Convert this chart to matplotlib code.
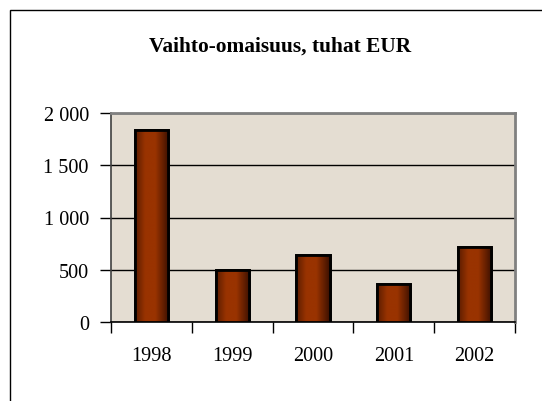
import numpy as np
import matplotlib
matplotlib.use("Agg")
import matplotlib.pyplot as plt
from matplotlib.colors import LinearSegmentedColormap
from matplotlib.patches import Rectangle
from matplotlib.ticker import FuncFormatter, MultipleLocator

years = ["1998", "1999", "2000", "2001", "2002"]
values = [1840, 500, 645, 362, 722]
title = "Vaihto-omaisuus, tuhat EUR"

plt.rcParams['font.family'] = ['Liberation Serif', 'DejaVu Serif']

fig = plt.figure(figsize=(5.42, 4.02), dpi=100)
fig.patch.set_facecolor("white")

# outer chart frame
frame = Rectangle((10 / 542, -0.05), 1.2, (402 - 10.5) / 402 + 0.05,
                  transform=fig.transFigure, fill=False, edgecolor="black",
                  linewidth=1.0)
fig.patches.append(frame)

ax = fig.add_axes([111 / 542, 79 / 402, 404 / 542, 209 / 402])
ax.set_facecolor("#E4DDD2")

x = np.arange(len(years))
width = 0.41
bars = ax.bar(x, values, width=width, color="#993300", edgecolor="black",
              linewidth=2.0, zorder=3)

cmap = LinearSegmentedColormap.from_list(
    "bar", [(0.0, "#5a1c00"), (0.3, "#993300"), (0.6, "#993300"), (1.0, "#3c1000")])
grad = np.linspace(0, 1, 256).reshape(1, -1)
for b in bars:
    bx, by = b.get_x(), b.get_y()
    bw, bh = b.get_width(), b.get_height()
    im = ax.imshow(grad, cmap=cmap, aspect="auto", extent=(bx, bx + bw, by, by + bh),
                   zorder=3.5, interpolation="bilinear")
    im.set_clip_path(b)
    ax.add_patch(Rectangle((bx, by), bw, bh, fill=False, edgecolor="black",
                           linewidth=2.0, zorder=4))

ax.set_xlim(-0.5, len(years) - 0.5)
ax.set_ylim(0, 2000)
ax.yaxis.set_major_locator(MultipleLocator(500))
ax.yaxis.set_major_formatter(FuncFormatter(lambda v, p: f"{int(v):,}".replace(",", " ")))
ax.grid(axis="y", color="black", linewidth=1.0, zorder=1)
ax.set_axisbelow(True)

ax.set_xticks(np.arange(len(years) + 1) - 0.5, minor=False)
ax.set_xticklabels([])
ax.set_xticks(x, minor=True)
ax.set_xticklabels(years, minor=True)
ax.tick_params(axis="x", which="major", direction="out", length=8, width=1, color="black")
ax.tick_params(axis="x", which="minor", length=0, pad=17, labelsize=14.6)
ax.tick_params(axis="y", direction="out", length=8, width=1, pad=8, labelsize=14.6)

for s in ["top", "right"]:
    ax.spines[s].set_color("#808080")
    ax.spines[s].set_linewidth(2.0)
ax.spines["left"].set_color("#404040")
ax.spines["left"].set_linewidth(1.2)
ax.spines["bottom"].set_color("black")
ax.spines["bottom"].set_linewidth(1.2)

fig.text(280 / 542, 1 - 47 / 402, title, ha="center", va="center",
         fontsize=15.4, fontweight="bold")

fig.savefig("out.png", dpi=100)
